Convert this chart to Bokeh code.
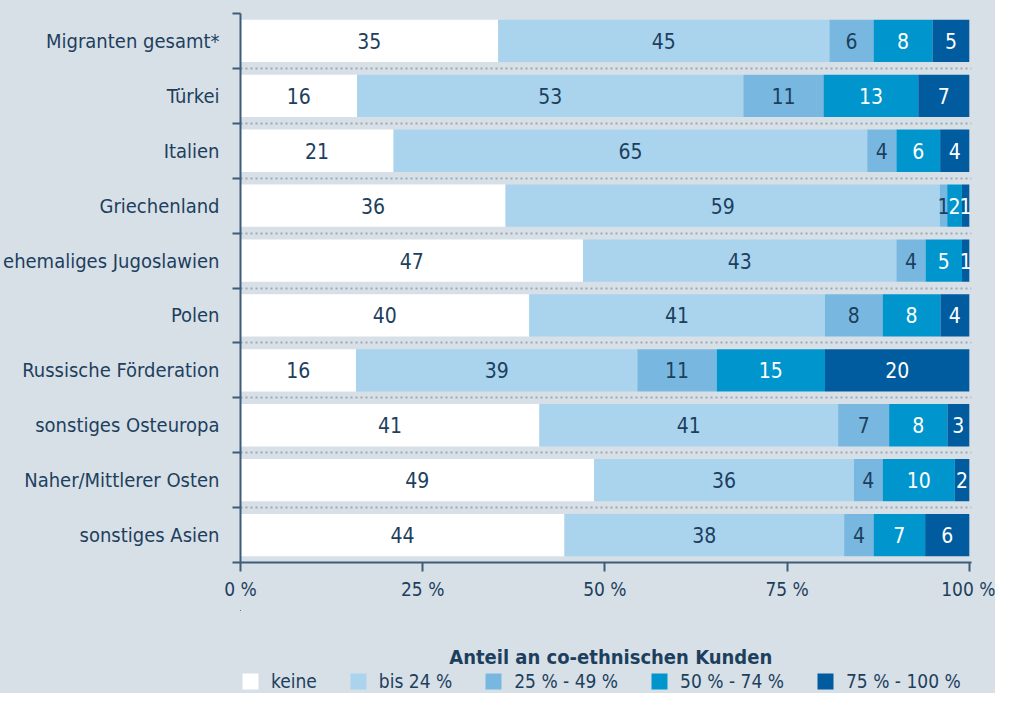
from bokeh.plotting import figure
from bokeh.layouts import column
from bokeh.models import ColumnDataSource, FixedTicker, Range1d, Legend, LegendItem, Label
from bokeh.embed import file_html
from bokeh.resources import INLINE
from bokeh.core.properties import value

categories = ["Migranten gesamt*", "Türkei", "Italien", "Griechenland",
              "ehemaliges Jugoslawien", "Polen", "Russische Förderation",
              "sonstiges Osteuropa", "Naher/Mittlerer Osten", "sonstiges Asien"]
keine = [35, 16, 21, 36, 47, 40, 16, 41, 49, 44]
bis_24 = [45, 53, 65, 59, 43, 41, 39, 41, 36, 38]
p25_49 = [6, 11, 4, 1, 4, 8, 11, 7, 4, 4]
p50_74 = [8, 13, 6, 2, 5, 8, 15, 8, 10, 7]
p75_100 = [5, 7, 4, 1, 1, 4, 20, 3, 2, 6]
series_names = ["keine", "bis 24 %", "25 % - 49 %", "50 % - 74 %", "75 % - 100 %"]
x_ticks = [0, 25, 50, 75, 100]
x_tick_labels = ["0 %", "25 %", "50 %", "75 %", "100 %"]
legend_title = "Anteil an co-ethnischen Kunden"

colors = ["#ffffff", "#aad4ee", "#78b8e0", "#0096cd", "#005b9f"]
text_colors = ["#1d3f5e", "#1d3f5e", "#1d3f5e", "#ffffff", "#ffffff"]
BG = "#d8e0e7"
TXT = "#1d3f5e"
AX = "#3d5c78"
FONT = "DejaVu Sans Condensed"

series = [keine, bis_24, p25_49, p50_74, p75_100]
n = len(categories)
ys = [n - 0.5 - i for i in range(n)]
totals = [sum(s[i] for s in series) for i in range(n)]
keys = ["s%d" % j for j in range(len(series))]
data = {"y": ys}
for k, s in zip(keys, series):
    data[k] = [s[i] / totals[i] * 100 for i in range(n)]
src = ColumnDataSource(data)

tx, ty, tt, tc = [], [], [], []
for i in range(n):
    left = 0.0
    for j, k in enumerate(keys):
        w = data[k][i]
        tx.append(left + w / 2)
        ty.append(ys[i])
        tt.append(str(series[j][i]))
        tc.append(text_colors[j])
        left += w
tsrc = ColumnDataSource(dict(x=tx, y=ty, t=tt, c=tc))

W = 995
H1 = 610
H2 = 83
XMAX = 100.3

p = figure(width=W, height=H1, x_range=Range1d(0, XMAX), y_range=Range1d(0, n),
           output_backend="svg", toolbar_location=None,
           min_border_left=240, min_border_right=24, min_border_top=13, min_border_bottom=48,
           background_fill_color=BG, border_fill_color=BG, outline_line_color=None)

rs = p.hbar_stack(keys, y="y", height=0.77, color=colors, source=src, line_color=None)

p.text(x="x", y="y", text="t", text_color="c", source=tsrc, text_align="center",
       text_baseline="middle", text_font=value(FONT), text_font_size="21px")

# y axis
p.yaxis.ticker = FixedTicker(ticks=ys, minor_ticks=list(range(0, n + 1)))
p.yaxis.major_label_overrides = {y: c for y, c in zip(ys, categories)}
p.yaxis.major_tick_line_color = None
p.yaxis.major_tick_out = 0
p.yaxis.major_tick_in = 0
p.yaxis.minor_tick_out = 8
p.yaxis.minor_tick_in = 0
p.yaxis.minor_tick_line_color = AX
p.yaxis.minor_tick_line_width = 2
p.yaxis.axis_line_color = AX
p.yaxis.axis_line_width = 2
p.yaxis.major_label_standoff = 13
p.yaxis.major_label_text_font = FONT
p.yaxis.major_label_text_font_size = "20px"
p.yaxis.major_label_text_color = TXT

# x axis
p.xaxis.ticker = FixedTicker(ticks=x_ticks)
p.xaxis.major_label_overrides = dict(zip(x_ticks, x_tick_labels))
p.xaxis.major_tick_out = 9
p.xaxis.major_tick_in = 0
p.xaxis.major_tick_line_color = AX
p.xaxis.major_tick_line_width = 2
p.xaxis.minor_tick_line_color = None
p.xaxis.axis_line_color = AX
p.xaxis.axis_line_width = 2
p.xaxis.major_label_standoff = 6
p.xaxis.major_label_text_font = FONT
p.xaxis.major_label_text_font_size = "19px"
p.xaxis.major_label_text_color = TXT

p.xgrid.grid_line_color = None
p.ygrid.ticker = FixedTicker(ticks=list(range(1, n + 1)))
p.ygrid.grid_line_color = "#9ea8b2"
p.ygrid.grid_line_width = 2
p.ygrid.grid_line_dash = "2 3"

# legend figure: its view lies far away from the bars, so only the legend shows
X0 = 1000
Y0 = -30
p2 = figure(width=W, height=H2, x_range=Range1d(X0, X0 + XMAX), y_range=Range1d(Y0 - H2, Y0),
            output_backend="svg", toolbar_location=None,
            x_axis_type=None, y_axis_type=None,
            min_border_left=240, min_border_right=24, min_border_top=0, min_border_bottom=0,
            background_fill_color=BG, border_fill_color=BG, outline_line_color=None)
p2.grid.grid_line_color = None

p2.add_layout(Label(x=X0 + 50.8, y=Y0 - 46, text=legend_title, text_align="center",
                    text_baseline="middle", text_font=FONT, text_font_style="bold",
                    text_font_size="20px", text_color=TXT))

leg_rs = p2.hbar_stack(keys, y="y", height=0.77, color=colors, source=src, line_color=None)
items = [LegendItem(label=nm, renderers=[r]) for nm, r in zip(series_names, leg_rs)]
legend = Legend(items=items, orientation="horizontal", location=(0, 1),
                glyph_width=20, glyph_height=20, label_standoff=11, spacing=31,
                padding=0, margin=0, border_line_color=None, background_fill_alpha=0,
                label_text_font=FONT, label_text_font_size="19px", label_text_color=TXT)
p2.add_layout(legend)

layout = column(p, p2, spacing=0, styles={"background-color": BG})
open("out.html", "w").write(file_html(layout, INLINE))
